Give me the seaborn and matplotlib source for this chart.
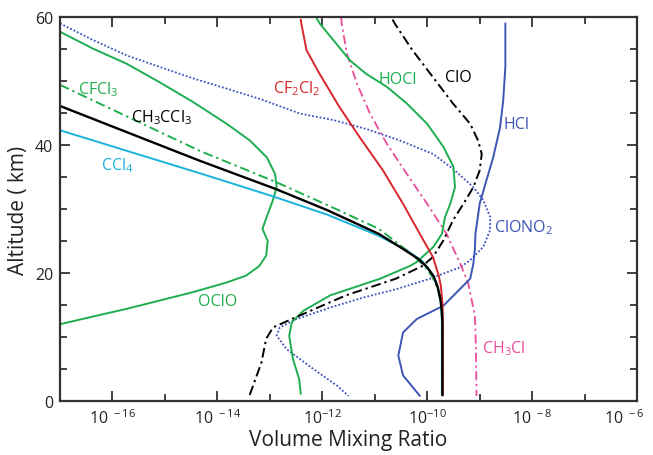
import numpy as np
import pandas as pd
import matplotlib
matplotlib.use("Agg")
import matplotlib.pyplot as plt
import matplotlib.transforms as mtransforms
import seaborn as sns
from matplotlib.ticker import FixedLocator, NullFormatter

# ---- data: log10(volume mixing ratio) and altitude (km) ----
ccl4_lx = [-17, -14.34, -12.95, -11.9, -10.92, -10.40, -10.10, -9.92, -9.80, -9.74, -9.72, -9.72]
ccl4_alt = [42.3, 35.6, 32.0, 29.1, 25.8, 23.6, 21.9, 20.0, 17.8, 15.5, 12.8, 1.0]

ch3ccl3_lx = [-17, -14.34, -12.88, -11.9, -10.92, -10.41, -10.17, -10.0, -9.87, -9.80, -9.75,
              -9.72, -9.71, -9.71]
ch3ccl3_alt = [46.1, 37.55, 33.1, 29.8, 26.1, 23.5, 22.2, 20.9, 19.4, 17.8, 16.0,
               14.0, 12.0, 0.9]

cfcl3_lx = [-17, -14.34, -12.88, -11.9, -10.92, -10.29, -10.05, -9.90, -9.80, -9.74, -9.71, -9.71]
cfcl3_alt = [49.4, 39.1, 34.2, 30.6, 26.9, 22.9, 21.1, 19.4, 17.6, 15.5, 12.5, 0.9]

oclo_lx = [-17, -16.37, -15.73, -15.10, -14.46, -13.82, -13.38, -13.06, -12.90, -12.87,
           -12.94, -13.06, -13.14, -13.04, -13.07, -13.20, -13.45, -13.83, -14.47, -15.10,
           -15.73, -16.37, -17]
oclo_alt = [57.7, 55.05, 52.7, 49.8, 46.7, 43.3, 40.7, 38.1, 35.5, 33.4,
            31.4, 28.75, 26.9, 25.0, 22.7, 21.1, 19.6, 18.5, 17.0, 15.7,
            14.4, 13.2, 12.0]

hocl_lx = [-12.12, -12.05, -11.79, -11.47, -11.16, -10.77, -10.39, -10.0, -9.69, -9.50,
           -9.47, -9.56, -9.66, -9.72, -9.88, -10.2, -10.33, -10.90, -11.85, -12.36,
           -12.58, -12.63, -12.56, -12.44, -12.41]
hocl_alt = [60.0, 59.0, 56.4, 53.2, 51.1, 49.1, 46.5, 43.3, 39.7, 36.6,
            33.4, 30.8, 28.75, 26.1, 24.1, 21.7, 21.1, 19.1, 16.5, 14.1,
            12.3, 10.2, 6.6, 3.4, 1.1]

clo_lx = [-10.66, -10.62, -10.28, -9.89, -9.51, -9.18, -9.03, -8.96, -9.0, -9.12, -9.31,
          -9.51, -9.69, -9.89, -10.09, -10.60, -11.55, -12.0, -12.50, -12.94, -13.07,
          -13.16, -13.39]
clo_alt = [59.6, 59.0, 54.8, 50.6, 46.5, 43.3, 40.7, 38.6, 36.0, 33.4, 30.8,
           28.2, 25.1, 22.5, 21.1, 19.1, 16.5, 14.9, 13.1, 11.5, 9.7,
           6.0, 0.8]

clono2_lx = [-17, -16.37, -15.73, -15.10, -14.46, -13.82, -13.19, -12.42, -11.79, -11.16,
             -10.52, -9.89, -9.51, -9.12, -8.93, -8.80, -8.80, -8.93, -9.18, -9.37, -9.95,
             -10.58, -11.2, -11.85, -12.49, -12.81, -12.87, -12.68, -12.17, -11.72, -11.50]
clono2_alt = [59.0, 56.4, 54.0, 52.2, 50.4, 48.8, 47.2, 44.9, 43.9, 42.5,
              40.7, 38.6, 36.3, 33.4, 31.4, 28.75, 26.7, 24.1, 22.0, 20.9, 19.1,
              17.5, 16.2, 14.6, 12.8, 11.5, 10.2, 8.1, 5.0, 2.4, 0.8]

hcl_lx = [-8.51, -8.51, -8.55, -8.61, -8.74, -8.87, -9.0, -9.08, -9.09, -9.12, -9.18,
          -9.69, -10.2, -10.46, -10.55, -10.46, -10.14]
hcl_alt = [59.0, 52.2, 47.0, 42.8, 38.1, 34.5, 30.8, 26.1, 23.75, 21.45, 19.1,
           14.9, 12.8, 10.7, 7.1, 4.0, 0.8]

cf2cl2_lx = [-12.41, -12.40, -12.30, -12.05, -11.67, -11.29, -10.84, -10.46, -10.14, -9.89,
             -9.78, -9.74, -9.71, -9.70, -9.70]
cf2cl2_alt = [59.6, 59.0, 54.8, 51.1, 45.9, 41.25, 36.0, 30.8, 26.1, 22.5,
              19.6, 18.0, 15.4, 12.8, 0.9]

ch3cl_lx = [-11.64, -11.63, -11.53, -11.34, -11.09, -10.77, -10.39, -10.0, -9.63, -9.37,
            -9.22, -9.09, -9.07, -9.06]
ch3cl_alt = [60.0, 59.0, 54.25, 49.6, 44.9, 40.2, 35.5, 30.8, 26.1, 21.45,
             18.5, 13.3, 8.0, 0.8]

tick_exps = [-16, -14, -12, -10, -8, -6]
tick_labels = [r"10$^{\ -16}$", r"10$^{\ -14}$", r"10$^{-12}$", r"10$^{-10}$",
               r"10$^{\ -8}$", r"10$^{\ -6}$"]

GREEN = "#1fae4f"
CYAN = "#19b3dc"
RED = "#d9262c"
BLUE = "#3d55b5"
DBLUE = "#3b4fc4"
PINK = "#ea4c9b"

sns.set_theme(style="white")
plt.rcParams["font.family"] = ["Open Sans", "DejaVu Sans"]
plt.rcParams["mathtext.default"] = "regular"

fig = plt.figure(figsize=(6.53, 4.56), dpi=100)
ax = fig.add_axes([60 / 653, 54 / 456, 577 / 653, 384 / 456])

series = [
    ("ClONO2", clono2_lx, clono2_alt, DBLUE, (0, (1.0, 1.1)), 1.3),
    ("OClO", oclo_lx, oclo_alt, GREEN, "-", 1.4),
    ("CCl4", ccl4_lx, ccl4_alt, CYAN, "-", 1.4),
    ("CFCl3", cfcl3_lx, cfcl3_alt, GREEN, (0, (5, 2, 1.2, 2)), 1.4),
    ("CH3Cl", ch3cl_lx, ch3cl_alt, PINK, (0, (5, 2, 1.2, 2)), 1.3),
    ("HCl", hcl_lx, hcl_alt, BLUE, "-", 1.4),
    ("HOCl", hocl_lx, hocl_alt, GREEN, "-", 1.4),
    ("ClO", clo_lx, clo_alt, "black", (0, (5, 2, 1.2, 2)), 1.4),
    ("CF2Cl2", cf2cl2_lx, cf2cl2_alt, RED, "-", 1.4),
    ("CH3CCl3", ch3ccl3_lx, ch3ccl3_alt, "black", "-", 1.7),
]

for name, lx, alt, col, ls, lw in series:
    df = pd.DataFrame({"vmr": 10.0 ** np.array(lx, dtype=float), "alt": alt})
    sns.lineplot(data=df, x="vmr", y="alt", sort=False, estimator=None,
                 color=col, linestyle=ls, linewidth=lw, ax=ax)

ax.set_xscale("log")
ax.set_xlim(1e-17, 1e-6)
ax.set_ylim(0, 60)

ax.xaxis.set_major_locator(FixedLocator([10.0 ** e for e in tick_exps]))
ax.set_xticklabels(tick_labels)
ax.xaxis.set_minor_locator(FixedLocator([10.0 ** e for e in [-15, -13, -11, -9, -7]]))
ax.xaxis.set_minor_formatter(NullFormatter())
ax.set_yticks([0, 20, 40, 60])
ax.yaxis.set_minor_locator(FixedLocator([5, 10, 15, 25, 30, 35, 45, 50, 55]))

ax.tick_params(which="both", direction="in", top=True, right=True, bottom=True, left=True,
               color="#333333", width=1.3)
ax.tick_params(which="major", length=7, labelsize=11.5, pad=5, labelcolor="#222222")
ax.tick_params(which="minor", length=5)
for sp in ax.spines.values():
    sp.set_color("#333333")
    sp.set_linewidth(1.6)

# keep the last tick label inside the figure (as in the reference)
last = ax.get_xticklabels()[-1]
last.set_transform(last.get_transform() +
                   mtransforms.ScaledTranslation(-9 / 72, 0, fig.dpi_scale_trans))

ax.set_xlabel("Volume Mixing Ratio", fontsize=15, color="#222222", labelpad=2)
ax.set_ylabel("Altitude ( km)", fontsize=15, color="#222222", labelpad=4)
ax.grid(False)

labels = [
    ("CFCl$_3$", -16.28, 48.75, GREEN),
    ("CH$_3$CCl$_3$", -15.07, 44.4, "black"),
    ("CCl$_4$", -15.9, 37.0, CYAN),
    ("CF$_2$Cl$_2$", -12.48, 48.9, RED),
    ("HOCl", -10.56, 50.3, GREEN),
    ("ClO", -9.41, 50.6, "black"),
    ("HCl", -8.29, 43.3, BLUE),
    ("ClONO$_2$", -8.16, 27.2, BLUE),
    ("OClO", -14.0, 15.6, GREEN),
    ("CH$_3$Cl", -8.54, 8.4, PINK),
]
for txt, lx, y, col in labels:
    ax.text(10.0 ** lx, y, txt, color=col, fontsize=11.5, ha="center", va="center")

fig.savefig("out.png", dpi=100)
